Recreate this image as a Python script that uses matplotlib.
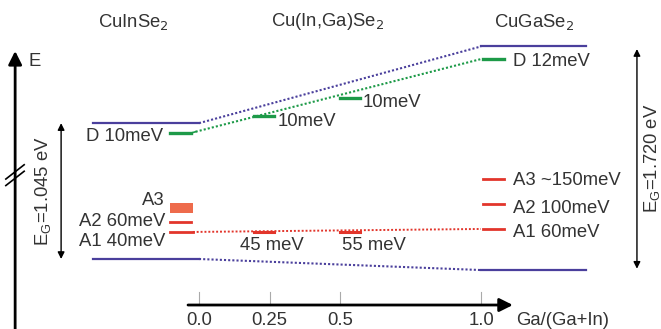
import matplotlib.pyplot as plt

plt.rcParams['font.family'] = ['Liberation Sans', 'DejaVu Sans']

# composition axis Ga/(Ga+In)
comp = [0.0, 0.25, 0.5, 1.0]
comp_labels = ['0.0', '0.25', '0.5', '1.0']

# band edges (schematic energies, eV, CuInSe2 VBM = 0)
cb = [1.045, 1.635]      # at x=0 and x=1
vb = [0.0, -0.085]
# donor levels (schematic positions)
d_x = [0.0, 0.25, 0.5, 1.0]
d_e = [0.969, 1.100, 1.238, 1.538]
d_labels = ['D 10meV', '10meV', '10meV', 'D 12meV']
# acceptor levels
a1_x = [0.0, 0.25, 0.5, 1.0]
a1_e = [0.208, 0.208, 0.208, 0.231]
a1_labels = ['A1 40meV', '45 meV', '55 meV', 'A1 60meV']
cis_a2, cis_a3 = 0.285, (0.354, 0.431)
cgs_a2, cgs_a3 = 0.423, 0.615

PURPLE = '#4a3f9c'
GREEN = '#1d9a48'
RED = '#e2352b'
ORANGE = '#ee6b4c'
TXT = '#333333'
FS = 13.3

fig = plt.figure(figsize=(6.61, 3.29), dpi=100)
ax = fig.add_axes([0, 0, 1, 1])
ax.set_xlim(-0.7057, 1.6383)
ax.set_ylim(-0.5385, 1.9923)
ax.axis('off')

dot = (0, (1, 1))
seg = 0.036  # half width of level marks
mid_shift = [-0.02, 0.035]  # drawn offsets of the 0.25 / 0.5 marks

# conduction / valence bands
ax.plot([-0.376, 0.0], [cb[0], cb[0]], color=PURPLE, lw=1.6)
ax.plot([1.0, 1.372], [cb[1], cb[1]], color=PURPLE, lw=1.6)
ax.plot([0.0, 1.0], cb, color=PURPLE, lw=1.5, ls=dot)
ax.plot([-0.376, 0.0], [vb[0], vb[0]], color=PURPLE, lw=1.6)
ax.plot([1.0, 1.372], [vb[1], vb[1]], color=PURPLE, lw=1.6)
ax.plot([0.0, 1.0], vb, color=PURPLE, lw=1.5, ls=dot)

# donor levels
ax.plot([-0.103, -0.028], [d_e[0], d_e[0]], color=GREEN, lw=2.4)
ax.plot([-0.028, -0.012], [d_e[0], d_e[0] + 0.01], color=GREEN, lw=1.2)
ax.plot([-0.012, 1.0], [d_e[0] + 0.01, d_e[3]], color=GREEN, lw=1.5, ls=dot)
for x, e, s in zip(d_x[1:3], d_e[1:3], mid_shift):
    ax.plot([x - seg + s, x + seg + s], [e, e], color=GREEN, lw=2.4)
ax.plot([1.007, 1.082], [d_e[3], d_e[3]], color=GREEN, lw=2.4)

# acceptor levels
ax.plot([-0.103, -0.022], [a1_e[0], a1_e[0]], color=RED, lw=2.0)
ax.plot([-0.103, -0.028], [cis_a2, cis_a2], color=RED, lw=2.0)
ax.fill_between([-0.103, -0.022], cis_a3[0], cis_a3[1], color=ORANGE, lw=0)
ax.plot([-0.022, 1.0], [a1_e[0], a1_e[3]], color=RED, lw=1.4, ls=dot)
for x, e, s in zip(a1_x[1:3], a1_e[1:3], mid_shift):
    ax.plot([x - seg + s, x + seg + s], [e, e], color=RED, lw=2.2)
for e in (a1_e[3], cgs_a2, cgs_a3):
    ax.plot([1.007, 1.082], [e, e], color=RED, lw=2.0)

# level labels
ax.text(-0.128, 0.946, d_labels[0], ha='right', va='center', fontsize=FS, color=TXT)
ax.text(0.28, 1.055, d_labels[1], ha='left', va='center', fontsize=FS, color=TXT)
ax.text(0.58, 1.200, d_labels[2], ha='left', va='center', fontsize=FS, color=TXT)
ax.text(1.113, 1.520, d_labels[3], ha='left', va='center', fontsize=FS, color=TXT)
ax.text(-0.121, 0.450, 'A3', ha='right', va='center', fontsize=FS, color=TXT)
ax.text(-0.121, 0.285, 'A2 60meV', ha='right', va='center', fontsize=FS, color=TXT)
ax.text(-0.121, 0.138, a1_labels[0], ha='right', va='center', fontsize=FS, color=TXT)
ax.text(0.145, 0.105, a1_labels[1], ha='left', va='center', fontsize=FS, color=TXT)
ax.text(0.507, 0.105, a1_labels[2], ha='left', va='center', fontsize=FS, color=TXT)
ax.text(1.113, 0.600, 'A3 ~150meV', ha='left', va='center', fontsize=FS, color=TXT)
ax.text(1.113, 0.392, 'A2 100meV', ha='left', va='center', fontsize=FS, color=TXT)
ax.text(1.113, 0.200, a1_labels[3], ha='left', va='center', fontsize=FS, color=TXT)

# material titles
ax.text(-0.234, 1.823, 'CuInSe$_2$', ha='center', va='center', fontsize=FS, color=TXT)
ax.text(0.454, 1.830, 'Cu(In,Ga)Se$_2$', ha='center', va='center', fontsize=FS, color=TXT)
ax.text(1.188, 1.823, 'CuGaSe$_2$', ha='center', va='center', fontsize=FS, color=TXT)

# band gap arrows
ax.annotate('', xy=(-0.489, cb[0]), xytext=(-0.489, vb[0]),
            arrowprops=dict(arrowstyle='<|-|>', lw=1.0, color='k', mutation_scale=10,
                            shrinkA=0, shrinkB=0))
ax.text(-0.553, (cb[0] + vb[0]) / 2, r'E$\mathregular{_G}$=1.045 eV', rotation=90,
        ha='center', va='center', fontsize=FS, color=TXT)
ax.annotate('', xy=(1.553, cb[1] - 0.02), xytext=(1.553, vb[1] + 0.01),
            arrowprops=dict(arrowstyle='<|-|>', lw=1.0, color='k', mutation_scale=10,
                            shrinkA=0, shrinkB=0))
ax.text(1.605, (cb[1] + vb[1]) / 2, r'E$\mathregular{_G}$=1.720 eV', rotation=90,
        ha='center', va='center', fontsize=FS, color=TXT)

# energy axis with break
ax.annotate('', xy=(-0.652, 1.60), xytext=(-0.652, -0.5385),
            arrowprops=dict(arrowstyle='-|>', lw=2.0, color='k', mutation_scale=20,
                            shrinkA=0, shrinkB=0))
ax.plot([-0.652, -0.652], [0.60, 0.66], color='white', lw=4, solid_capstyle='butt')
for off in (0.0, 0.05):
    ax.plot([-0.685, -0.620], [0.565 + off, 0.675 + off], color='k', lw=1.2)
ax.text(-0.606, 1.523, 'E', ha='left', va='center', fontsize=FS, color=TXT)

# composition axis
y_ax = -0.354
ax.annotate('', xy=(1.113, y_ax), xytext=(-0.039, y_ax),
            arrowprops=dict(arrowstyle='-|>', lw=2.0, color='k', mutation_scale=20,
                            shrinkA=0, shrinkB=0))
for x, lab in zip(comp, comp_labels):
    ax.plot([x, x], [y_ax, y_ax + 0.1], color='#aaaaaa', lw=0.8)
    ax.text(x, -0.470, lab, ha='center', va='center', fontsize=FS, color=TXT)
ax.text(1.124, -0.470, 'Ga/(Ga+In)', ha='left', va='center', fontsize=FS, color=TXT)

fig.savefig('out.png', dpi=100, facecolor='white')
